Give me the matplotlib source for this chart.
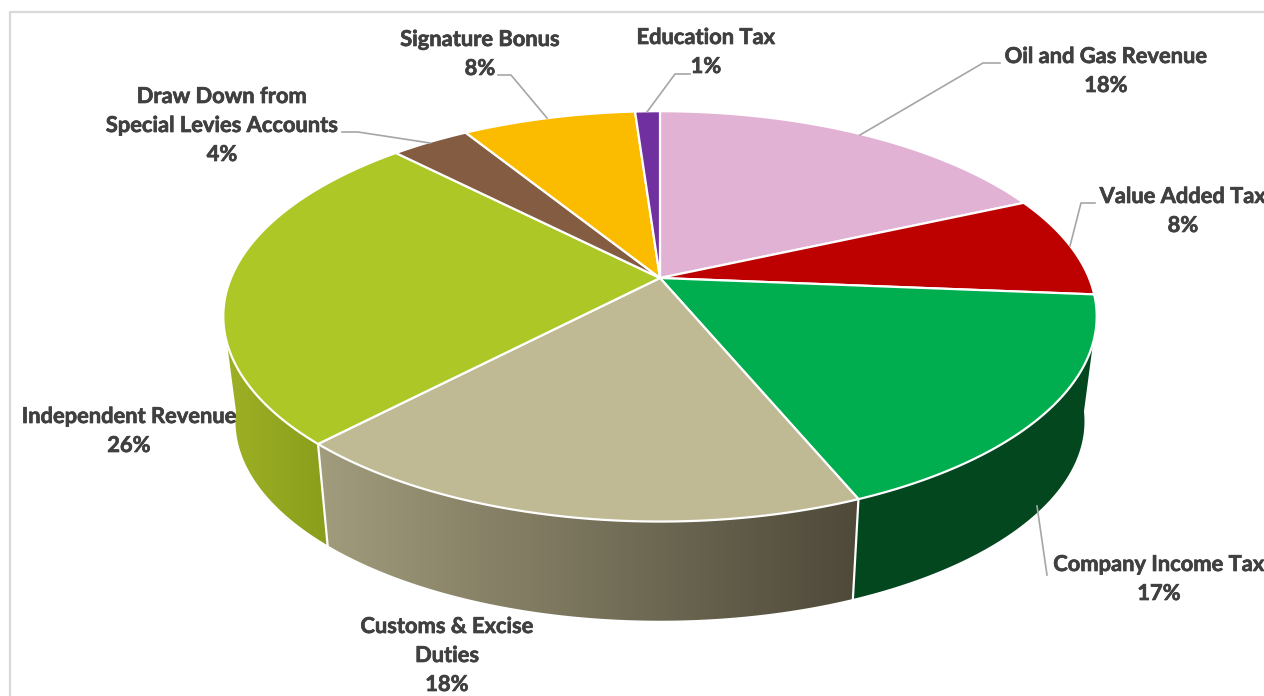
import matplotlib
matplotlib.use("Agg")
import matplotlib.pyplot as plt
import matplotlib.patheffects as pe
import numpy as np
from matplotlib.colors import LinearSegmentedColormap
from matplotlib.patches import Polygon

categories = ["Oil and Gas Revenue", "Value Added Tax", "Company Income Tax",
              "Customs & Excise\nDuties", "Independent Revenue",
              "Draw Down from\nSpecial Levies Accounts", "Signature Bonus", "Education Tax"]
shares = [18.3, 8.0, 17.45, 18.35, 25.6, 3.5, 7.7, 1.1]
top_colors = ["#e2b2d4", "#bd0000", "#00ae4f", "#bfb994", "#adc726", "#835c41", "#fbbc00", "#7030a0"]
wall_left = ["#e2b2d4", "#8c0000", "#03471f", "#a19c7c", "#9db024", "#835c41", "#fbbc00", "#7030a0"]
wall_right = ["#e2b2d4", "#8c0000", "#03471f", "#4e4939", "#8a9e1c", "#835c41", "#fbbc00", "#7030a0"]

# label centre x, first line baseline y, leader polyline (pixels)
label_x = [1106, 1183, 1159, 447, 129, 222, 480, 706]
label_y = [63, 203, 571, 633, 423, 103, 46, 44]
leaders = [
    [(1000, 63), (983, 63), (860, 135)],
    [(1095, 203), (1081, 203), (1070, 246)],
    [(1047, 575), (1037, 506)],
    None,
    None,
    [(342, 132), (358, 132), (430, 143)],
    [(498, 75), (511, 75), (547, 118)],
    [(690, 74), (675, 74), (647, 112)],
]

CX, CY = 660, 278
A, B, K = 429, 198, 0.187
WALL_DROP = 106
WALL_SCALE = 0.972
TEXT = "#404040"
LINE_H = 29


def project(theta, bottom=False):
    # perspective view of the unit disc, theta clockwise from 12 o'clock
    u, v = np.sin(theta), np.cos(theta)
    d = 1 + K * v
    x, y = A * u / d, -B * v / d
    if bottom:
        return CX + WALL_SCALE * x, CY + WALL_DROP + WALL_SCALE * y
    return CX + x, CY + y


fig = plt.figure(figsize=(12.64, 6.96), dpi=100)
ax = fig.add_axes([0, 0, 1, 1])
ax.set_xlim(0, 1264)
ax.set_ylim(696, 0)
ax.axis("off")

ax.plot([1264, 10, 10], [12, 12, 696], color="#d9d9d9", lw=1.6, zorder=1)

edges = np.radians(np.cumsum([0] + shares) * 3.6)

# side wall: the rim limits differ so the silhouette runs tangent to both discs
top_lo, top_hi = np.radians(108), np.radians(252)
bot_lo, bot_hi = np.radians(98), np.radians(262)
for i in range(len(shares)):
    if edges[i + 1] <= bot_lo or edges[i] >= bot_hi:
        continue
    t_top = np.linspace(max(edges[i], top_lo), min(edges[i + 1], top_hi), 120)
    t_bot = np.linspace(max(edges[i], bot_lo), min(edges[i + 1], bot_hi), 120)
    tx, ty = project(t_top)
    bx, by = project(t_bot, bottom=True)
    pts = np.column_stack([np.r_[tx, bx[::-1]], np.r_[ty, by[::-1]]])
    cmap = LinearSegmentedColormap.from_list(f"wall{i}", [wall_left[i], wall_right[i]])
    x0, x1 = pts[:, 0].min(), pts[:, 0].max()
    y0, y1 = pts[:, 1].min(), pts[:, 1].max()
    im = ax.imshow(np.linspace(0, 1, 256)[None, :], cmap=cmap, aspect="auto",
                   extent=[x0, x1, y1, y0], zorder=2)
    im.set_clip_path(Polygon(pts, transform=ax.transData))
    # white seam down the wall
    if bot_lo < edges[i] < bot_hi:
        sx, sy = project(edges[i])
        ex, ey = project(edges[i], bottom=True)
        ax.plot([sx, ex], [sy, ey], color="white", lw=1.6, zorder=3)
ax.set_xlim(0, 1264)
ax.set_ylim(696, 0)

# top face
for i in range(len(shares)):
    t = np.linspace(edges[i], edges[i + 1], 200)
    x, y = project(t)
    pts = np.column_stack([np.r_[CX, x], np.r_[CY, y]])
    ax.add_patch(Polygon(pts, closed=True, facecolor=top_colors[i], edgecolor="white",
                         lw=1.6, joinstyle="round", zorder=4))

heavier = [pe.withStroke(linewidth=0.5, foreground=TEXT)]
for i, name in enumerate(categories):
    text = f"{name}\n{shares[i]:.0f}%"
    for j, line in enumerate(text.split("\n")):
        ax.text(label_x[i], label_y[i] + j * LINE_H, line, ha="center", va="baseline",
                family="Lato", fontweight="bold", fontsize=15.75, color=TEXT,
                path_effects=heavier, zorder=6)
    if leaders[i]:
        xs, ys = zip(*leaders[i])
        ax.plot(xs, ys, color="#a6a6a6", lw=1.2, zorder=5)

fig.savefig("out.png", dpi=100, facecolor="white")
